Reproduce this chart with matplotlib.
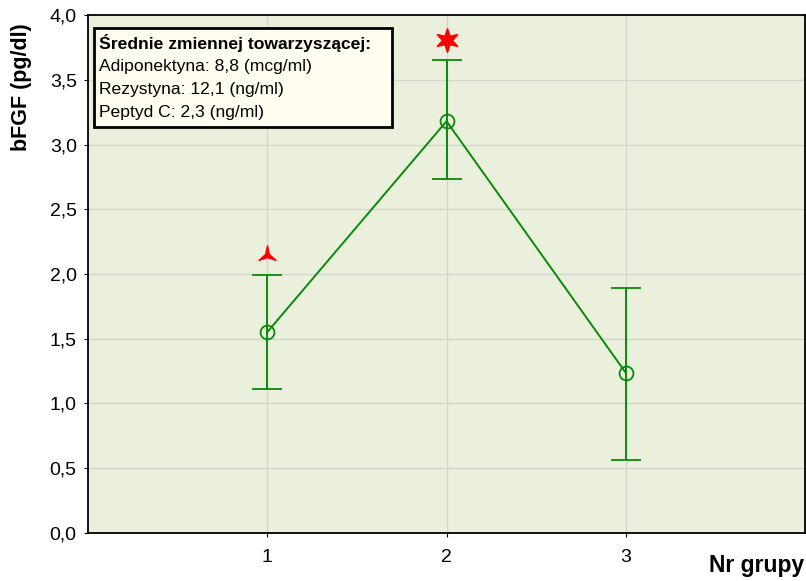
import numpy as np
import matplotlib.pyplot as plt
from matplotlib.patches import Rectangle
from matplotlib.path import Path
from matplotlib.ticker import FuncFormatter

plt.rcParams['font.family'] = ['Liberation Sans', 'DejaVu Sans']

# średnie bFGF w grupach z przedziałami
groups = [1, 2, 3]
means = [1.55, 3.18, 1.235]
upper = [1.99, 3.65, 1.89]
lower = [1.11, 2.73, 0.56]

# oznaczenia istotności nad grupami 1 i 2
sig_x = [1, 2]
sig_y = [2.15, 3.81]

legend_title = 'Średnie zmiennej towarzyszącej:'
legend_lines = ['Adiponektyna: 8,8 (mcg/ml)',
                'Rezystyna: 12,1 (ng/ml)',
                'Peptyd C: 2,3 (ng/ml)']

green = '#0a8a0a'


def tri_star():
    # trójramienna gwiazdka z wklęsłymi bokami
    verts = []
    for k in range(3):
        a = np.pi / 2 + k * 2 * np.pi / 3
        verts.append((np.cos(a), np.sin(a)))
        b = a + np.pi / 3
        verts.append((0.22 * np.cos(b), 0.22 * np.sin(b)))
    verts.append(verts[0])
    codes = [Path.MOVETO] + [Path.LINETO] * 5 + [Path.CLOSEPOLY]
    return Path(verts, codes)


def six_star():
    # sześcioramienna gwiazdka
    verts = []
    for k in range(6):
        a = np.pi / 2 + k * np.pi / 3
        verts.append((np.cos(a), np.sin(a)))
        b = a + np.pi / 6
        verts.append((0.42 * np.cos(b), 0.42 * np.sin(b)))
    verts.append(verts[0])
    codes = [Path.MOVETO] + [Path.LINETO] * 11 + [Path.CLOSEPOLY]
    return Path(verts, codes)


fig = plt.figure(figsize=(8.06, 5.81), dpi=100)
ax = fig.add_axes([0.109, 0.083, 0.89, 0.891])
ax.set_facecolor('#eaf0dc')

yerr = [[m - lo for m, lo in zip(means, lower)],
        [up - m for m, up in zip(means, upper)]]
ax.errorbar(groups, means, yerr=yerr, color=green, lw=1.4,
            marker='o', markersize=10, markerfacecolor='none',
            markeredgecolor=green, markeredgewidth=1.3,
            capsize=11, capthick=1.6, zorder=3)

ax.plot(sig_x[0], sig_y[0], marker=tri_star(), markersize=14, color='red',
        linestyle='none', zorder=4)
ax.plot(sig_x[1], sig_y[1], marker=six_star(), markersize=17, color='red',
        linestyle='none', zorder=4)

ax.set_xlim(0, 4)
ax.set_ylim(0, 4)
ax.set_xticks(groups)
ax.set_yticks([i * 0.5 for i in range(9)])
ax.yaxis.set_major_formatter(FuncFormatter(lambda v, p: f'{v:.1f}'.replace('.', ',')))
ax.grid(True, color='#d2d6cf', lw=1)
ax.set_axisbelow(True)
ax.tick_params(labelsize=14, length=3, color='black')
ax.tick_params(axis='y', pad=5)
ax.tick_params(axis='x', pad=9)
for s in ax.spines.values():
    s.set_linewidth(1.3)
    s.set_color('black')

fig.text(0.027, 0.85, 'bFGF (pg/dl)', rotation=90, ha='center', va='center',
         fontsize=15.5, fontweight='bold')
fig.text(0.998, 0.026, 'Nr grupy', ha='right', va='center',
         fontsize=16.5, fontweight='bold')

# ramka z wartościami średnimi zmiennych towarzyszących
ax.add_patch(Rectangle((0.0084, 0.784), 0.416, 0.191, transform=ax.transAxes,
                       fc='#fffdf0', ec='black', lw=2, zorder=5))
ax.text(0.016, 0.946, legend_title, transform=ax.transAxes, va='center',
        ha='left', fontsize=12.6, fontweight='bold', zorder=6)
for i, line in enumerate(legend_lines):
    ax.text(0.016, 0.900 - i * 0.044, line, transform=ax.transAxes,
            va='center', ha='left', fontsize=12.6, zorder=6)

fig.savefig('out.png', dpi=100)
